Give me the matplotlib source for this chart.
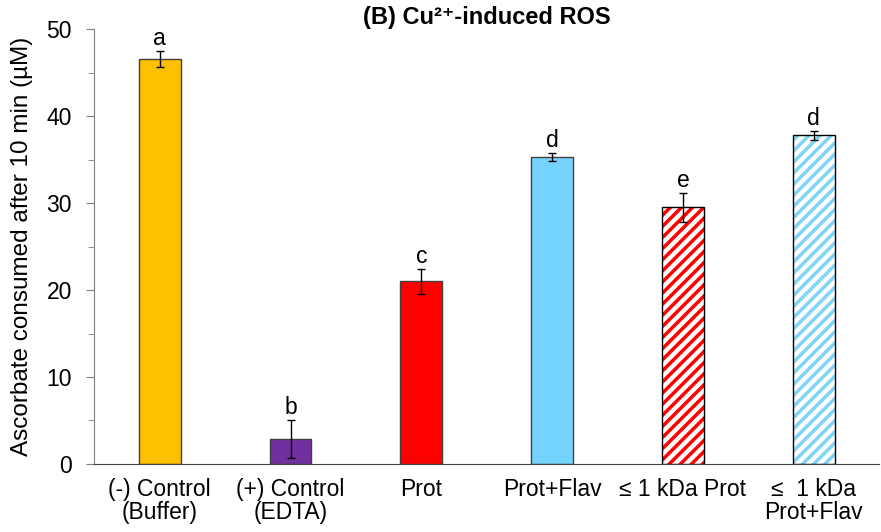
import matplotlib
matplotlib.use('Agg')
import matplotlib.pyplot as plt
import numpy as np

plt.rcParams['font.family'] = ['Liberation Sans', 'DejaVu Sans']
plt.rcParams['hatch.linewidth'] = 2.5

labels = ['(-) Control\n(Buffer)', '(+) Control\n(EDTA)', 'Prot', 'Prot+Flav',
          '\u2264 1 kDa Prot', '\u2264  1 kDa\nProt+Flav']
values = [46.6, 2.9, 21.0, 35.3, 29.5, 37.8]
errors = [0.9, 2.2, 1.4, 0.5, 1.7, 0.5]
letters = ['a', 'b', 'c', 'd', 'e', 'd']
colors = ['#FFC000', '#7030A0', '#FF0000', '#75D4FF', '#FF0000', '#80D4F5']
hatched = [False, False, False, False, True, True]

fig = plt.figure(figsize=(8.81, 5.32), dpi=100)
ax = fig.add_axes([0.107, 0.128, 0.891, 0.817])

x = np.arange(len(values))
w = 0.32
for i in range(len(values)):
    if hatched[i]:
        ax.bar(x[i], values[i], w, color='white', edgecolor=colors[i], hatch='///', linewidth=0)
        ax.bar(x[i], values[i], w, fill=False, edgecolor='black', linewidth=1)
    else:
        ax.bar(x[i], values[i], w, color=colors[i], edgecolor='#404040', linewidth=1)
    ax.errorbar(x[i], values[i], yerr=errors[i], fmt='none', ecolor='black',
                elinewidth=1, capsize=3, capthick=1)
    ax.text(x[i], values[i] + errors[i] + 0.1, letters[i], ha='center', va='bottom', fontsize=16.5)

ax.set_xlim(-0.5, 5.5)
ax.set_ylim(0, 50)
ax.set_yticks(range(0, 51, 10))
ax.set_yticks(range(5, 50, 10), minor=True)
ax.set_xticks(x)
ax.set_xticklabels(labels, fontsize=16.5, linespacing=1.0)
ax.tick_params(axis='x', length=0, pad=10)
ax.tick_params(axis='y', which='both', direction='out', color='#808080', labelsize=16.5)
ax.tick_params(axis='y', which='major', length=6, pad=10)
ax.tick_params(axis='y', which='minor', length=4)
ax.spines['top'].set_visible(False)
ax.spines['right'].set_visible(False)
ax.spines['left'].set_color('#808080')
ax.spines['bottom'].set_color('#404040')
ax.set_ylabel('Ascorbate consumed after 10 min (\u00b5M)', fontsize=17.5, labelpad=10)
ax.set_title('(B) Cu\u00b2\u207a-induced ROS', fontsize=17, fontweight='bold', pad=-5)

fig.savefig('out.png', dpi=100)
